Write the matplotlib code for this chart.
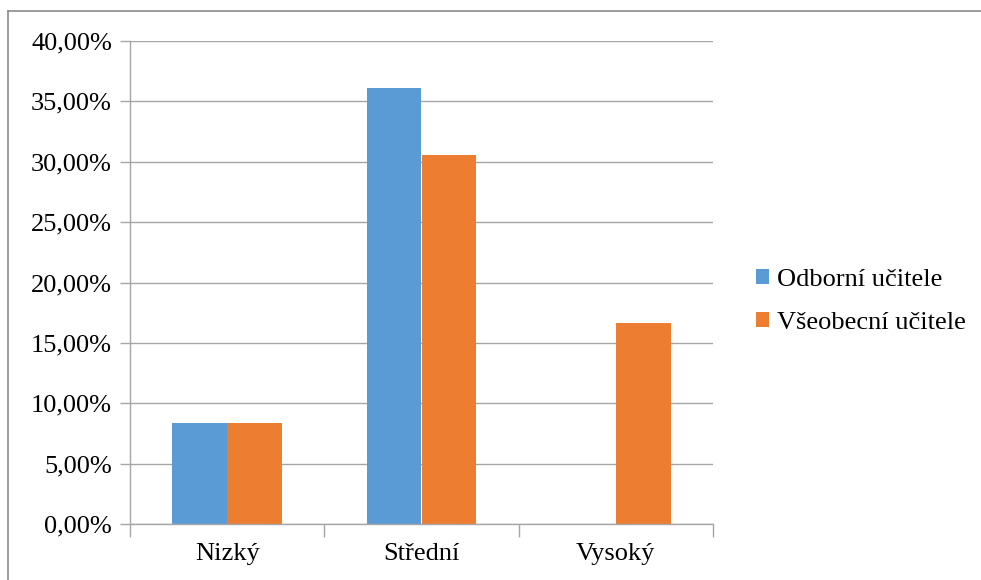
import matplotlib
matplotlib.use("Agg")
import matplotlib.pyplot as plt
from matplotlib.lines import Line2D
from matplotlib.patches import Patch
import numpy as np

categories = ["Nizký", "Střední", "Vysoký"]
series_names = ["Odborní učitele", "Všeobecní učitele"]
odborni = [8.33, 36.11, 0.0]
vseobecni = [8.33, 30.56, 16.67]
y_ticks = [0, 5, 10, 15, 20, 25, 30, 35, 40]
y_tick_labels = ["0,00%", "5,00%", "10,00%", "15,00%", "20,00%", "25,00%", "30,00%", "35,00%", "40,00%"]

colors = ["#5B9BD5", "#ED7D31"]
grid_c = "#A6A6A6"

W, H = 981, 580
fig = plt.figure(figsize=(W / 100, H / 100), dpi=100)
plt.rcParams['font.family'] = ['Liberation Serif', 'DejaVu Serif']

# plot area in pixels
left, right, top, bottom = 130, 713, 41, 524
ax = fig.add_axes([left / W, 1 - bottom / H, (right - left) / W, (bottom - top) / H])

x = np.arange(len(categories))
bw = 0.283
ax.bar(x - bw / 2, odborni, bw, color=colors[0], label=series_names[0])
ax.bar(x + bw / 2, vseobecni, bw, color=colors[1], label=series_names[1])

ax.set_xlim(-0.5, len(categories) - 0.5)
ax.set_ylim(0, 40)
ax.set_yticks(y_ticks)
ax.set_yticklabels(y_tick_labels, fontsize=19, color="#000000")
ax.set_xticks(x)
ax.set_xticklabels(categories, fontsize=19, color="#000000")
ax.tick_params(axis="x", length=0, pad=14)
ax.tick_params(axis="y", length=7, color=grid_c, width=1, pad=6)
# category separator ticks
ax.set_xticks(np.arange(-0.5, len(categories), 1.0), minor=True)
ax.tick_params(axis="x", which="minor", length=9, color=grid_c, width=1)

ax.yaxis.grid(True, color=grid_c, linewidth=1)
ax.set_axisbelow(True)
for s in ["top", "right"]:
    ax.spines[s].set_visible(False)
ax.spines["left"].set_color(grid_c)
ax.spines["bottom"].set_color(grid_c)
ax.spines["left"].set_linewidth(1)
ax.spines["bottom"].set_linewidth(1)

handles = [Patch(facecolor=colors[0]), Patch(facecolor=colors[1])]
leg = fig.legend(handles, series_names, loc="upper left",
                 bbox_to_anchor=(745 / W, 1 - 258 / H), frameon=False,
                 fontsize=19, handlelength=0.5, handleheight=0.5,
                 handletextpad=0.3, labelspacing=0.8, borderaxespad=0)

# chart border (left and top visible)
bc = "#8C8C8C"
fig.add_artist(Line2D([8 / W, 8 / W], [0, 1 - 11 / H], color=bc, linewidth=1.2, transform=fig.transFigure))
fig.add_artist(Line2D([8 / W, 1], [1 - 11 / H, 1 - 11 / H], color=bc, linewidth=1.2, transform=fig.transFigure))

fig.savefig("out.png", dpi=100)
